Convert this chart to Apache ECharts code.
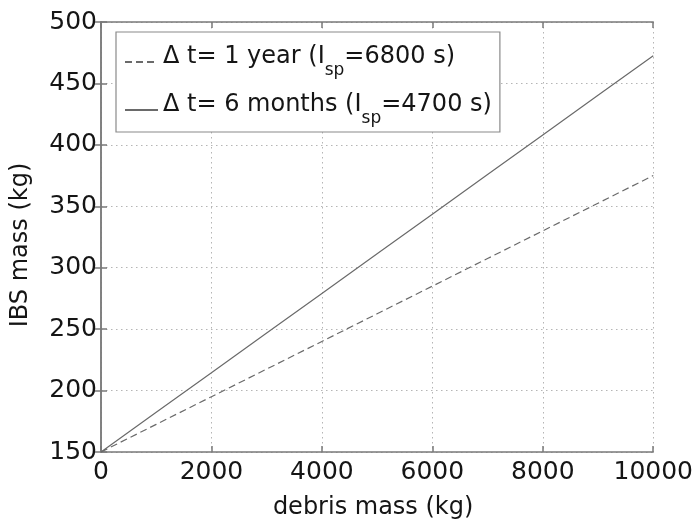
<!DOCTYPE html>
<html>
<head>
<meta charset="utf-8">
<script src="https://cdn.jsdelivr.net/npm/echarts@6/dist/echarts.min.js"></script>
<style>html,body{margin:0;padding:0;background:#fff}#c{width:696px;height:525px}</style>
</head>
<body>
<div id="c"></div>
<script>
const debrisMass = [0, 1000, 2000, 3000, 4000, 5000, 6000, 7000, 8000, 9000, 10000];
const ibsOneYear = [150, 172.5, 195, 217.5, 240, 262.5, 285, 307.5, 330, 352.5, 375];
const ibsSixMonths = [150, 182.3, 214.5, 246.8, 279, 311.3, 343.5, 375.8, 408, 440.3, 472.5];
const seriesNames = ['Δ t= 1 year', 'Δ t= 6 months'];
const legendLabels = {
  'Δ t= 1 year': ['Δ t= 1 year (I', 'sp', '=6800 s)'],
  'Δ t= 6 months': ['Δ t= 6 months (I', 'sp', '=4700 s)']
};

const FONT = 'DejaVu Sans, sans-serif';
const axisCol = '#7a7a7a';
const txt = '#151515';

const chart = echarts.init(document.getElementById('c'));
function baseAxis(extra) {
  return Object.assign({
    type: 'value',
    axisLine: { show: true, lineStyle: { color: axisCol, width: 1.5 } },
    axisTick: { show: true, inside: true, length: 6, lineStyle: { color: axisCol, width: 1.5 } },
    splitLine: { show: false },
    axisLabel: { show: false }
  }, extra);
}
chart.setOption({
  animation: false,
  backgroundColor: '#fff',
  grid: { left: 101, right: 40, top: 22, bottom: 71 },
  legend: {
    orient: 'vertical',
    left: 116, top: 32,
    backgroundColor: '#fff',
    borderColor: '#8a8a8a', borderWidth: 1.2,
    padding: [13, 8, 5, 8],
    itemWidth: 33, itemHeight: 14, itemGap: 14,
    itemStyle: { opacity: 0 },
    data: seriesNames,
    formatter: function (n) {
      const p = legendLabels[n];
      return '{a|' + p[0] + '}{s|' + p[1] + '}{a|' + p[2] + '}';
    },
    textStyle: {
      fontFamily: FONT, color: txt, fontSize: 24,
      rich: {
        a: { fontFamily: FONT, color: txt, fontSize: 24, lineHeight: 34, verticalAlign: 'top' },
        s: { fontFamily: FONT, color: txt, fontSize: 17, lineHeight: 34, verticalAlign: 'bottom', padding: [17, 0, 0, 0] }
      }
    }
  },
  xAxis: [
    baseAxis({
      min: 0, max: 10000, interval: 2000, position: 'bottom',
      name: 'debris mass (kg)', nameLocation: 'middle', nameGap: 44,
      nameTextStyle: { fontFamily: FONT, fontSize: 24, color: txt, padding: [0, 8, 0, 0] },
      axisLabel: { show: true, fontFamily: FONT, fontSize: 25, color: txt, margin: 8, formatter: v => String(v) },
      splitLine: { show: true, lineStyle: { color: '#b5b5b5', type: [1.5, 3.5], width: 1 } }
    }),
    baseAxis({ min: 0, max: 10000, interval: 2000, position: 'top' })
  ],
  yAxis: [
    baseAxis({
      min: 150, max: 500, interval: 50, position: 'left',
      name: 'IBS mass (kg)', nameLocation: 'middle', nameGap: 68,
      nameTextStyle: { fontFamily: FONT, fontSize: 24, color: txt, padding: [0, 16, 0, 0] },
      axisLabel: { show: true, fontFamily: FONT, fontSize: 25, color: txt, margin: 4 },
      splitLine: { show: true, lineStyle: { color: '#b5b5b5', type: [1.5, 3.5], width: 1 } }
    }),
    baseAxis({ min: 150, max: 500, interval: 50, position: 'right' })
  ],
  series: [
    {
      name: seriesNames[0], type: 'line', symbol: 'none',
      data: debrisMass.map((x, i) => [x, ibsOneYear[i]]),
      lineStyle: { color: '#6a6a6a', width: 1.2, type: [7, 4] },
      itemStyle: { color: '#6a6a6a' }
    },
    {
      name: seriesNames[1], type: 'line', symbol: 'none',
      data: debrisMass.map((x, i) => [x, ibsSixMonths[i]]),
      lineStyle: { color: '#6a6a6a', width: 1.2, type: 'solid' },
      itemStyle: { color: '#6a6a6a' }
    }
  ]
});
</script>
</body>
</html>
